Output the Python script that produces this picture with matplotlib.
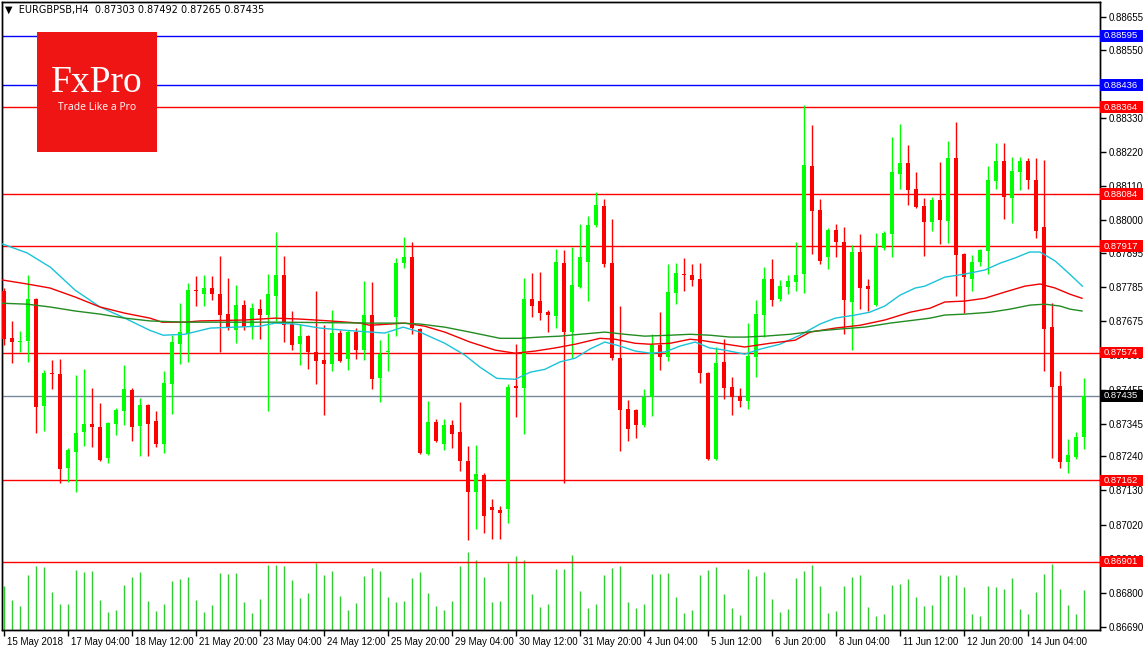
import numpy as np
import matplotlib.pyplot as plt
from matplotlib.patches import Rectangle
from matplotlib import transforms

plt.rcParams['font.family'] = ['Liberation Sans', 'DejaVu Sans']

W, H = 1143, 651

# EURGBPSB H4 candles, 15 May 20:00 .. 15 Jun 08:00
open_ = [0.87772, 0.87620, 0.87608, 0.87611, 0.87746, 0.87402, 0.87507, 0.87504, 0.87201, 0.87253,
         0.87317, 0.87343, 0.87334, 0.87233, 0.87343, 0.87385, 0.87453, 0.87337, 0.87405, 0.87353,
         0.87279, 0.87472, 0.87601, 0.87633, 0.87775, 0.87762, 0.87782, 0.87762, 0.87698, 0.87646,
         0.87727, 0.87659, 0.87714, 0.87695, 0.87756, 0.87824, 0.87666, 0.87601, 0.87627, 0.87576,
         0.87550, 0.87537, 0.87637, 0.87553, 0.87640, 0.87582, 0.87695, 0.87491, 0.87576, 0.87688,
         0.87862, 0.87882, 0.87650, 0.87246, 0.87350, 0.87279, 0.87340, 0.87317, 0.87224, 0.87124,
         0.87179, 0.87076, 0.87066, 0.87069, 0.87466, 0.87459, 0.87746, 0.87740, 0.87704, 0.87692,
         0.87862, 0.87640, 0.87785, 0.87866, 0.87985, 0.88047, 0.87862, 0.87556, 0.87392, 0.87388,
         0.87340, 0.87430, 0.87598, 0.87560, 0.87765, 0.87827, 0.87824, 0.87811, 0.87507, 0.87230,
         0.87544, 0.87462, 0.87433, 0.87417, 0.87560, 0.87695, 0.87811, 0.87746, 0.87785, 0.87801,
         0.87827, 0.88175, 0.88033, 0.87882, 0.87969, 0.87930, 0.87737, 0.87898, 0.87788, 0.87727,
         0.87911, 0.87956, 0.88149, 0.88185, 0.88101, 0.88047, 0.87995, 0.88066, 0.87998, 0.88201,
         0.87892, 0.87811, 0.87866, 0.87901, 0.88127, 0.88191, 0.88072, 0.88156, 0.88191, 0.88130,
         0.87978, 0.87656, 0.87466, 0.87220, 0.87237, 0.87303]
high_ = [0.87782, 0.87676, 0.87643, 0.87824, 0.87749, 0.87517, 0.87550, 0.87553, 0.87266, 0.87501,
         0.87520, 0.87459, 0.87411, 0.87350, 0.87395, 0.87534, 0.87459, 0.87427, 0.87408, 0.87385,
         0.87514, 0.87630, 0.87733, 0.87798, 0.87821, 0.87824, 0.87821, 0.87885, 0.87814, 0.87791,
         0.87743, 0.87733, 0.87746, 0.87827, 0.87962, 0.87885, 0.87708, 0.87666, 0.87630, 0.87772,
         0.87662, 0.87711, 0.87646, 0.87646, 0.87653, 0.87804, 0.87801, 0.87614, 0.87637, 0.87879,
         0.87946, 0.87930, 0.87653, 0.87417, 0.87359, 0.87359, 0.87356, 0.87414, 0.87272, 0.87276,
         0.87185, 0.87101, 0.87079, 0.87472, 0.87601, 0.87814, 0.87830, 0.87833, 0.87711, 0.87908,
         0.87904, 0.87914, 0.87988, 0.88014, 0.88092, 0.88069, 0.88004, 0.87724, 0.87421, 0.87392,
         0.87456, 0.87633, 0.87704, 0.87859, 0.87862, 0.87879, 0.87859, 0.87862, 0.87510, 0.87592,
         0.87617, 0.87495, 0.87459, 0.87669, 0.87743, 0.87849, 0.87875, 0.87808, 0.87824, 0.87930,
         0.88372, 0.88307, 0.88069, 0.87976, 0.87988, 0.87978, 0.87921, 0.87956, 0.87811, 0.87959,
         0.87966, 0.88269, 0.88310, 0.88243, 0.88156, 0.88072, 0.88075, 0.88188, 0.88256, 0.88317,
         0.87895, 0.87888, 0.87908, 0.88175, 0.88249, 0.88249, 0.88204, 0.88204, 0.88201, 0.88201,
         0.88194, 0.87733, 0.87514, 0.87295, 0.87318, 0.87492]
low_ = [0.87598, 0.87540, 0.87576, 0.87544, 0.87314, 0.87321, 0.87456, 0.87153, 0.87156, 0.87124,
        0.87272, 0.87269, 0.87224, 0.87217, 0.87308, 0.87340, 0.87289, 0.87240, 0.87240, 0.87269,
        0.87250, 0.87375, 0.87537, 0.87544, 0.87724, 0.87724, 0.87743, 0.87576, 0.87646, 0.87604,
        0.87646, 0.87617, 0.87617, 0.87385, 0.87676, 0.87608, 0.87582, 0.87534, 0.87520, 0.87472,
        0.87372, 0.87514, 0.87544, 0.87517, 0.87553, 0.87550, 0.87456, 0.87414, 0.87514, 0.87627,
        0.87846, 0.87633, 0.87246, 0.87243, 0.87286, 0.87259, 0.87266, 0.87192, 0.86969, 0.87005,
        0.86992, 0.86972, 0.86972, 0.87024, 0.87366, 0.87311, 0.87688, 0.87679, 0.87640, 0.87653,
        0.87153, 0.87556, 0.87782, 0.87740, 0.87978, 0.87849, 0.87550, 0.87256, 0.87289, 0.87298,
        0.87334, 0.87369, 0.87517, 0.87547, 0.87730, 0.87772, 0.87788, 0.87475, 0.87227, 0.87227,
        0.87424, 0.87372, 0.87398, 0.87392, 0.87495, 0.87624, 0.87724, 0.87740, 0.87762, 0.87772,
        0.87765, 0.87892, 0.87859, 0.87843, 0.87882, 0.87633, 0.87582, 0.87714, 0.87708, 0.87724,
        0.87904, 0.87882, 0.88101, 0.88050, 0.88040, 0.87885, 0.87966, 0.87924, 0.87927, 0.87756,
        0.87701, 0.87772, 0.87853, 0.87827, 0.88101, 0.88004, 0.87991, 0.88098, 0.88101, 0.87943,
        0.87514, 0.87233, 0.87201, 0.87185, 0.87230, 0.87265]
close_ = [0.87617, 0.87608, 0.87611, 0.87746, 0.87398, 0.87507, 0.87504, 0.87198, 0.87259, 0.87314,
          0.87343, 0.87334, 0.87227, 0.87346, 0.87388, 0.87456, 0.87334, 0.87405, 0.87343, 0.87279,
          0.87475, 0.87608, 0.87640, 0.87775, 0.87772, 0.87782, 0.87762, 0.87695, 0.87653, 0.87727,
          0.87656, 0.87717, 0.87695, 0.87762, 0.87824, 0.87662, 0.87598, 0.87627, 0.87576, 0.87547,
          0.87537, 0.87637, 0.87547, 0.87640, 0.87582, 0.87695, 0.87488, 0.87569, 0.87579, 0.87862,
          0.87882, 0.87653, 0.87250, 0.87350, 0.87289, 0.87340, 0.87311, 0.87224, 0.87124, 0.87182,
          0.87047, 0.87066, 0.87056, 0.87462, 0.87459, 0.87746, 0.87724, 0.87701, 0.87695, 0.87866,
          0.87640, 0.87791, 0.87882, 0.87985, 0.88050, 0.87859, 0.87556, 0.87388, 0.87327, 0.87340,
          0.87430, 0.87598, 0.87560, 0.87769, 0.87830, 0.87824, 0.87808, 0.87507, 0.87230, 0.87540,
          0.87459, 0.87430, 0.87417, 0.87563, 0.87698, 0.87811, 0.87743, 0.87788, 0.87804, 0.87824,
          0.88178, 0.88030, 0.87869, 0.87969, 0.87930, 0.87743, 0.87898, 0.87782, 0.87779, 0.87914,
          0.87959, 0.88156, 0.88185, 0.88098, 0.88043, 0.87995, 0.88066, 0.88001, 0.88201, 0.87888,
          0.87817, 0.87866, 0.87904, 0.88130, 0.88191, 0.88075, 0.88159, 0.88191, 0.88130, 0.87966,
          0.87650, 0.87462, 0.87220, 0.87243, 0.87301, 0.87435]
volume = [44, 30, 24, 55, 64, 63, 38, 26, 26, 60, 58, 59, 30, 18, 20, 45, 53, 58, 29, 19,
          26, 49, 51, 53, 30, 18, 25, 57, 56, 57, 28, 17, 31, 65, 65, 64, 50, 32, 37, 67,
          55, 59, 34, 20, 27, 54, 62, 59, 33, 28, 29, 52, 58, 37, 24, 20, 29, 64, 78, 70,
          53, 28, 29, 67, 74, 70, 36, 23, 26, 61, 61, 75, 39, 22, 26, 55, 62, 64, 28, 22,
          26, 56, 56, 57, 33, 17, 20, 55, 60, 63, 36, 22, 15, 61, 54, 58, 31, 18, 21, 52,
          59, 65, 44, 17, 19, 44, 53, 55, 23, 14, 16, 45, 46, 51, 33, 24, 25, 55, 54, 55,
          43, 16, 14, 44, 43, 41, 52, 21, 16, 38, 56, 66, 41, 25, 16, 40]

# moving averages sampled off the chart (bar position, price)
ma_fast_x = [-0.2, 2.9, 5.8, 8.9, 12, 15.1, 18.2, 19.9, 22.6, 25.8, 28.9, 32, 33.9, 36.4, 39.5,
             42.6, 45.8, 47.6, 49.9, 52, 55.1, 57.6, 59.5, 61.6, 63.9, 65.8, 67.6, 69.5, 71.4,
             73.2, 75.1, 77, 78.9, 80.8, 82.6, 84.5, 86.4, 88.2, 90.1, 92.6, 94.5, 97, 99.5, 102,
             103.9, 106.4, 108.2, 110.1, 112, 113.9, 115.1, 117.6, 120.1, 122.6, 124.5, 126.4,
             128.2, 129.5, 131.4, 133.2, 134.8]
ma_fast = [0.87924, 0.87895, 0.87849, 0.87775, 0.87721, 0.87685, 0.87646, 0.87630, 0.87633, 0.87653,
           0.87656, 0.87659, 0.87669, 0.87666, 0.87653, 0.87646, 0.87640, 0.87637, 0.87656, 0.87640,
           0.87604, 0.87566, 0.87527, 0.87491, 0.87488, 0.87511, 0.87520, 0.87544, 0.87556, 0.87585,
           0.87608, 0.87595, 0.87579, 0.87572, 0.87576, 0.87595, 0.87608, 0.87589, 0.87582, 0.87569,
           0.87585, 0.87601, 0.87630, 0.87666, 0.87685, 0.87695, 0.87704, 0.87724, 0.87759, 0.87782,
           0.87788, 0.87817, 0.87827, 0.87840, 0.87862, 0.87879, 0.87898, 0.87898, 0.87869, 0.87827,
           0.87788]
ma_mid_x = [-0.25, 2.9, 5.75, 8.9, 12, 15.1, 18.25, 19.75, 22.6, 24.5, 30.1, 33.9, 37, 40.75, 44.5,
            45.75, 48.25, 50.1, 52.6, 55.1, 58.25, 61.4, 63.9, 66.4, 68.9, 71.4, 74.5, 76.4, 78.9,
            80.75, 83.25, 85.75, 87, 89.5, 92.6, 95.75, 98.9, 100.75, 103.9, 107, 110.1, 113.25,
            115.75, 117.6, 120.1, 122.6, 125.1, 127.6, 129.5, 131.4, 133.25, 134.75]
ma_mid = [0.87808, 0.87795, 0.87782, 0.87753, 0.87721, 0.87701, 0.87685, 0.87672, 0.87672, 0.87676,
          0.87679, 0.87685, 0.87682, 0.87676, 0.87669, 0.87662, 0.87666, 0.87669, 0.87659, 0.87640,
          0.87608, 0.87582, 0.87572, 0.87579, 0.87589, 0.87601, 0.87620, 0.87617, 0.87604, 0.87601,
          0.87604, 0.87617, 0.87614, 0.87604, 0.87592, 0.87604, 0.87614, 0.87640, 0.87653, 0.87662,
          0.87679, 0.87704, 0.87717, 0.87737, 0.87740, 0.87749, 0.87769, 0.87788, 0.87795, 0.87782,
          0.87762, 0.87749]
ma_slow_x = [-0.25, 2.9, 5.75, 8.9, 12, 15.1, 18.25, 22.6, 34.5, 45.75, 49.5, 52, 55.1, 58.25, 62,
             64.5, 67, 69.5, 72, 75.1, 77.6, 80.1, 83.25, 85.75, 88.25, 90.75, 92.6, 95.1, 98.25,
             101.4, 104.5, 107.6, 110.75, 113.9, 115.75, 117.6, 120.1, 123.25, 125.75, 128.25,
             130.1, 132, 133.25, 134.75]
ma_slow = [0.87733, 0.87730, 0.87721, 0.87708, 0.87698, 0.87685, 0.87676, 0.87672, 0.87672, 0.87669,
           0.87669, 0.87666, 0.87656, 0.87640, 0.87620, 0.87620, 0.87624, 0.87627, 0.87633, 0.87640,
           0.87633, 0.87627, 0.87630, 0.87633, 0.87630, 0.87624, 0.87624, 0.87627, 0.87633, 0.87643,
           0.87650, 0.87656, 0.87669, 0.87679, 0.87685, 0.87695, 0.87698, 0.87704, 0.87714, 0.87727,
           0.87730, 0.87724, 0.87714, 0.87708]

blue_levels = [0.88595, 0.88436]
red_levels = [0.88364, 0.88084, 0.87917, 0.87574, 0.87162, 0.86901]

price_ticks = [0.88655, 0.88550, 0.88440, 0.88330, 0.88220, 0.88110, 0.88000, 0.87895, 0.87785,
               0.87675, 0.87565, 0.87455, 0.87345, 0.87240, 0.87130, 0.87020, 0.86910, 0.86800,
               0.86690]
date_labels = ['15 May 2018', '17 May 04:00', '18 May 12:00', '21 May 20:00', '23 May 04:00',
               '24 May 12:00', '25 May 20:00', '29 May 04:00', '30 May 12:00', '31 May 20:00',
               '4 Jun 04:00', '5 Jun 12:00', '6 Jun 20:00', '8 Jun 04:00', '11 Jun 12:00',
               '12 Jun 20:00', '14 Jun 04:00']
date_step = 8  # one label every 8 bars

fig = plt.figure(figsize=(W / 100, H / 100), dpi=100)
ax = fig.add_axes([2 / W, 21 / H, 1098 / W, 628 / H])

o, hi, lo, c = map(np.array, (open_, high_, low_, close_))
x = np.arange(len(o))
col = np.where(c >= o, '#00FF00', '#FF0000')

# horizontal levels behind the candles
for lv in red_levels:
    ax.axhline(lv, color='#FF0000', lw=1, zorder=1)
for lv in blue_levels:
    ax.axhline(lv, color='#0000FF', lw=1, zorder=1)
ax.axhline(c[-1], color='#778899', lw=1, zorder=1)

# volumes in the bottom strip
ax2 = ax.twinx()
ax2.vlines(x, 0, volume, colors='#32CD32', lw=1)
ax2.set_ylim(0, max(volume) * 8.05)
ax2.set_yticks([])
ax2.set_zorder(0)
ax.set_zorder(1)
ax.patch.set_visible(False)

ax.vlines(x, lo, hi, colors=col, lw=1, zorder=3)
ax.bar(x, np.maximum(np.abs(c - o), 0.00004), bottom=np.minimum(o, c), width=0.62,
       color=col, lw=0, zorder=4)

ax.plot(ma_fast_x, ma_fast, color='#19C3D8', lw=1, zorder=5)
ax.plot(ma_mid_x, ma_mid, color='#F00000', lw=1, zorder=5)
ax.plot(ma_slow_x, ma_slow, color='#228B22', lw=1, zorder=5)

ax.set_xlim(-0.25, 137)
ax.set_ylim(0.866804, 0.887034)
ax2.set_xlim(-0.25, 137)

ax.yaxis.tick_right()
ax.set_yticks(price_ticks)
ax.set_yticklabels([f'{t:.5f}' for t in price_ticks])
ax.tick_params(axis='y', direction='out', length=4, width=1, pad=2, labelsize=7)
ax.set_xticks(x[::date_step][:len(date_labels)])
ax.set_xticklabels(date_labels)
ax.tick_params(axis='x', direction='out', length=4, width=1, pad=1, labelsize=7)
shift = transforms.ScaledTranslation(2 / 72, 0, fig.dpi_scale_trans)
for t in ax.get_xticklabels():
    t.set_horizontalalignment('left')
    t.set_transform(t.get_transform() + shift)
for sp in list(ax.spines.values()) + list(ax2.spines.values()):
    sp.set_color('black')
    sp.set_linewidth(1)

# price tags on the right edge, covering the tick labels beneath them
trans = transforms.blended_transform_factory(ax.transAxes, ax.transData)
tags = [(lv, '#0000FF') for lv in blue_levels] + [(lv, '#FF0000') for lv in red_levels] + [(c[-1], 'black')]
for lv, fc in tags:
    ax.add_patch(Rectangle((1.0, lv - 0.00019), 43 / 1098, 0.00038, transform=trans,
                           fc=fc, ec='none', clip_on=False, zorder=10))
    ax.text(1.0 + 4 / 1098, lv, f'{lv:.5f}', transform=trans, ha='left', va='center',
            color='white', fontsize=6.8, clip_on=False, zorder=11)

fig.text(5 / W, 1 - 10 / H,
         f'\u25bc  EURGBPSB,H4  {o[-1]:.5f} {hi[-1]:.5f} {lo[-1]:.5f} {c[-1]:.5f}',
         fontsize=7, va='center', ha='left', family=['DejaVu Sans'])

# FxPro logo
fig.add_artist(Rectangle((37 / W, 1 - 152 / H), 120 / W, 120 / H, transform=fig.transFigure,
                         fc='#F01515', ec='none', zorder=20))
fig.text(97 / W, 1 - 83 / H, 'FxPro', color='white', fontsize=27, family='Liberation Serif',
         ha='center', va='center', zorder=21)
fig.text(97 / W, 1 - 107 / H, 'Trade Like a Pro', color='white', fontsize=7.5, family='Open Sans',
         ha='center', va='center', zorder=21)

fig.savefig('out.png', dpi=100)
